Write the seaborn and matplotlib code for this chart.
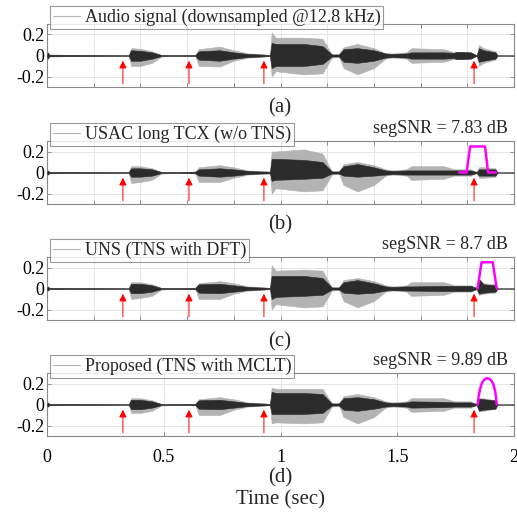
import numpy as np
import pandas as pd
import seaborn as sns
import matplotlib
matplotlib.use('Agg')
import matplotlib.pyplot as plt

# envelope breakpoints (sec)
t_env = [0.000, 0.003, 0.010, 0.24, 0.35, 0.36, 0.40, 0.45, 0.49, 0.55,
         0.635, 0.65, 0.74, 0.80, 0.86, 0.91, 0.955, 0.962, 0.98, 1.10,
         1.18, 1.22, 1.25, 1.27, 1.33, 1.40, 1.45, 1.48, 1.54, 1.56,
         1.70, 1.745, 1.75, 1.815, 1.84, 1.85, 1.87, 1.92, 1.93, 2.00]

# (a) original signal
a_gray_hi = [0, 0.03, 0.008, 0.004, 0.002, 0.07, 0.065, 0.04, 0.005, 0.003,
             0.005, 0.06, 0.085, 0.05, 0.02, 0.015, 0.005, 0.22, 0.17, 0.17,
             0.16, 0.01, 0.01, 0.08, 0.11, 0.07, 0.02, 0.02, 0.03, 0.07,
             0.06, 0.03, 0.035, 0.03, 0.002, 0.10, 0.07, 0.04, 0, 0]
a_gray_lo = [0, -0.03, -0.008, -0.004, -0.002, -0.10, -0.10, -0.07, -0.01, -0.003,
             -0.005, -0.10, -0.105, -0.05, -0.02, -0.015, -0.005, -0.20, -0.15, -0.18,
             -0.17, -0.02, -0.01, -0.12, -0.18, -0.12, -0.03, -0.02, -0.03, -0.07,
             -0.06, -0.03, -0.035, -0.03, -0.002, -0.10, -0.07, -0.04, 0, 0]
a_blk_hi = [0, 0.03, 0.008, 0.004, 0.002, 0.05, 0.045, 0.03, 0.005, 0.003,
            0.005, 0.04, 0.05, 0.03, 0.015, 0.01, 0.005, 0.12, 0.11, 0.11,
            0.09, 0.01, 0.01, 0.06, 0.07, 0.05, 0.02, 0.015, 0.02, 0.03,
            0.03, 0.025, 0.035, 0.03, 0.002, 0.07, 0.05, 0.03, 0, 0]
a_blk_lo = [0, -0.03, -0.008, -0.004, -0.002, -0.05, -0.05, -0.03, -0.005, -0.003,
            -0.005, -0.04, -0.05, -0.03, -0.015, -0.01, -0.005, -0.12, -0.10, -0.10,
            -0.08, -0.01, -0.01, -0.06, -0.07, -0.05, -0.02, -0.015, -0.02, -0.03,
            -0.03, -0.025, -0.035, -0.03, -0.002, -0.06, -0.05, -0.03, 0, 0]

# (b) USAC long TCX
b_gray_hi = [0, 0.02, 0.006, 0.004, 0.002, 0.06, 0.06, 0.04, 0.005, 0.004,
             0.008, 0.05, 0.07, 0.05, 0.02, 0.015, 0.008, 0.20, 0.20, 0.22,
             0.18, 0.01, 0.01, 0.08, 0.10, 0.07, 0.03, 0.02, 0.03, 0.06,
             0.06, 0.03, 0.03, 0.03, 0.005, 0.05, 0.05, 0.04, 0, 0]
b_gray_lo = [0, -0.02, -0.006, -0.004, -0.002, -0.10, -0.09, -0.07, -0.01, -0.004,
             -0.008, -0.09, -0.09, -0.05, -0.02, -0.015, -0.008, -0.20, -0.15, -0.18,
             -0.17, -0.02, -0.01, -0.12, -0.18, -0.12, -0.03, -0.02, -0.03, -0.07,
             -0.06, -0.03, -0.03, -0.03, -0.005, -0.05, -0.05, -0.04, 0, 0]
b_blk_hi = [0, 0.02, 0.006, 0.004, 0.003, 0.04, 0.04, 0.03, 0.005, 0.004,
            0.008, 0.03, 0.04, 0.03, 0.015, 0.01, 0.008, 0.13, 0.13, 0.12,
            0.10, 0.01, 0.01, 0.06, 0.08, 0.05, 0.02, 0.015, 0.02, 0.02,
            0.02, 0.02, 0.02, 0.02, 0.005, 0.03, 0.03, 0.03, 0, 0]
b_blk_lo = [0, -0.02, -0.006, -0.004, -0.003, -0.04, -0.04, -0.03, -0.005, -0.004,
            -0.008, -0.03, -0.04, -0.03, -0.015, -0.01, -0.008, -0.08, -0.07, -0.06,
            -0.05, -0.01, -0.01, -0.03, -0.04, -0.03, -0.02, -0.015, -0.02, -0.02,
            -0.02, -0.02, -0.02, -0.02, -0.005, -0.03, -0.03, -0.03, 0, 0]

# (c) UNS
c_gray_hi = [0, 0.02, 0.006, 0.004, 0.002, 0.06, 0.06, 0.04, 0.005, 0.004,
             0.006, 0.05, 0.07, 0.05, 0.02, 0.015, 0.006, 0.22, 0.17, 0.18,
             0.17, 0.01, 0.01, 0.08, 0.10, 0.07, 0.03, 0.02, 0.03, 0.06,
             0.06, 0.03, 0.03, 0.03, 0.005, 0.08, 0.05, 0.04, 0, 0]
c_gray_lo = [0, -0.02, -0.006, -0.004, -0.002, -0.10, -0.09, -0.07, -0.01, -0.004,
             -0.006, -0.10, -0.10, -0.05, -0.02, -0.015, -0.006, -0.20, -0.15, -0.18,
             -0.17, -0.02, -0.01, -0.12, -0.18, -0.12, -0.03, -0.02, -0.03, -0.07,
             -0.06, -0.03, -0.03, -0.03, -0.005, -0.06, -0.05, -0.04, 0, 0]
c_blk_hi = [0, 0.02, 0.006, 0.004, 0.002, 0.045, 0.045, 0.03, 0.005, 0.004,
            0.006, 0.04, 0.045, 0.03, 0.015, 0.01, 0.006, 0.12, 0.12, 0.12,
            0.10, 0.01, 0.01, 0.06, 0.08, 0.05, 0.02, 0.015, 0.02, 0.02,
            0.025, 0.025, 0.025, 0.025, 0.005, 0.09, 0.04, 0.03, 0, 0]
c_blk_lo = [0, -0.02, -0.006, -0.004, -0.002, -0.045, -0.045, -0.03, -0.005, -0.004,
            -0.006, -0.04, -0.045, -0.03, -0.015, -0.01, -0.006, -0.10, -0.08, -0.07,
            -0.06, -0.01, -0.01, -0.04, -0.05, -0.04, -0.02, -0.015, -0.02, -0.02,
            -0.025, -0.025, -0.025, -0.025, -0.005, -0.05, -0.04, -0.03, 0, 0]

# (d) Proposed
d_gray_hi = [0, 0.02, 0.006, 0.004, 0.002, 0.06, 0.06, 0.04, 0.005, 0.004,
             0.006, 0.05, 0.07, 0.05, 0.02, 0.015, 0.006, 0.16, 0.15, 0.15,
             0.15, 0.01, 0.01, 0.08, 0.10, 0.07, 0.03, 0.02, 0.03, 0.06,
             0.06, 0.03, 0.03, 0.03, 0.005, 0.06, 0.06, 0.04, 0, 0]
d_gray_lo = [0, -0.02, -0.006, -0.004, -0.002, -0.08, -0.08, -0.06, -0.01, -0.004,
             -0.006, -0.10, -0.10, -0.05, -0.02, -0.015, -0.006, -0.18, -0.17, -0.18,
             -0.17, -0.02, -0.01, -0.12, -0.18, -0.12, -0.03, -0.02, -0.03, -0.07,
             -0.06, -0.03, -0.03, -0.03, -0.005, -0.06, -0.06, -0.04, 0, 0]
d_blk_hi = [0, 0.02, 0.006, 0.004, 0.002, 0.045, 0.045, 0.03, 0.005, 0.004,
            0.006, 0.04, 0.045, 0.03, 0.015, 0.01, 0.006, 0.12, 0.11, 0.11,
            0.10, 0.01, 0.01, 0.06, 0.07, 0.05, 0.02, 0.015, 0.02, 0.03,
            0.025, 0.02, 0.02, 0.02, 0.005, 0.055, 0.05, 0.04, 0, 0]
d_blk_lo = [0, -0.02, -0.006, -0.004, -0.002, -0.045, -0.045, -0.03, -0.005, -0.004,
            -0.006, -0.04, -0.045, -0.03, -0.015, -0.01, -0.006, -0.09, -0.09, -0.09,
            -0.08, -0.01, -0.01, -0.05, -0.06, -0.04, -0.02, -0.015, -0.02, -0.03,
            -0.025, -0.02, -0.02, -0.02, -0.005, -0.06, -0.05, -0.04, 0, 0]

# magenta window curves
b_win_t = [1.765, 1.797, 1.812, 1.876, 1.889, 1.923]
b_win_v = [0, 0, 0.248, 0.248, 0, 0]
c_win_t = [1.844, 1.861, 1.909, 1.926]
c_win_v = [0, 0.25, 0.25, 0]
d_win_t = [1.844, 1.848, 1.853, 1.860, 1.868, 1.877, 1.886, 1.895, 1.904, 1.912, 1.919, 1.923, 1.926]
d_win_v = [0, 0.07, 0.13, 0.19, 0.225, 0.245, 0.25, 0.245, 0.225, 0.19, 0.13, 0.07, 0]

arrow_t = [0.325, 0.608, 0.929, 1.829]

legends = ['Audio signal (downsampled @12.8 kHz)', 'USAC long TCX (w/o TNS)',
           'UNS (TNS with DFT)', 'Proposed (TNS with MCLT)']
snr_labels = [None, 'segSNR = 7.83 dB', 'segSNR = 8.7 dB', 'segSNR = 9.89 dB']
panel_labels = ['(a)', '(b)', '(c)', '(d)']

yticks = [-0.2, 0, 0.2]
ytick_labels = ['-0.2', '0', '0.2']
xticks_minor = [0.2, 0.4, 0.6, 0.8, 1.0, 1.2, 1.4, 1.6, 1.8]
xticks_last = [0, 0.5, 1, 1.5, 2]
xtick_labels = ['0', '0.5', '1', '1.5', '2']

sns.set_theme(style='white')
plt.rcParams['font.family'] = ['Liberation Serif', 'DejaVu Serif']
plt.rcParams['axes.unicode_minus'] = False

envs = [(a_gray_hi, a_gray_lo, a_blk_hi, a_blk_lo),
        (b_gray_hi, b_gray_lo, b_blk_hi, b_blk_lo),
        (c_gray_hi, c_gray_lo, c_blk_hi, c_blk_lo),
        (d_gray_hi, d_gray_lo, d_blk_hi, d_blk_lo)]
wins = [None, (b_win_t, b_win_v), (c_win_t, c_win_v), (d_win_t, d_win_v)]

fig = plt.figure(figsize=(5.17, 5.17), dpi=100)
W = 517.0
tops = [24, 141, 257, 373]
lab_y = [108, 225, 342, 478]
ax_h = 63

for i in range(4):
    ax = fig.add_axes([47 / W, 1 - (tops[i] + ax_h) / W, 467 / W, ax_h / W])
    ghi, glo, bhi, blo = envs[i]
    ax.fill_between(t_env, glo, ghi, color='#b3b3b3', lw=0.4, zorder=2)
    ax.fill_between(t_env, blo, bhi, color='#2b2b2b', lw=0.4, zorder=3)
    if wins[i] is not None:
        wd = pd.DataFrame({'t': wins[i][0], 'v': wins[i][1]})
        sns.lineplot(data=wd, x='t', y='v', color='#ff00ff', lw=1.8,
                     sort=False, estimator=None, ax=ax, zorder=5)
    for ta in arrow_t:
        ax.annotate('', xy=(ta, -0.05), xytext=(ta, -0.27),
                    arrowprops=dict(arrowstyle='-|>', color='red', lw=0.7,
                                    mutation_scale=11, shrinkA=0, shrinkB=0),
                    zorder=6)
    ax.set_xlim(0, 2)
    ax.set_ylim(-0.3, 0.3)
    ax.set_yticks(yticks)
    ax.set_yticklabels(ytick_labels, fontsize=13)
    if i < 3:
        ax.set_xticks(xticks_minor)
        ax.set_xticklabels([])
    else:
        ax.set_xticks(xticks_last)
        ax.set_xticklabels(xtick_labels, fontsize=13)
    ax.set_xlabel('')
    ax.set_ylabel('')
    ax.grid(True, color='#e4e4e4', lw=0.7, zorder=0)
    ax.set_axisbelow(True)
    ax.tick_params(direction='in', length=3, width=0.6, color='#808080',
                   top=True, right=True, bottom=True, left=True, pad=2,
                   labelcolor='black')
    ax.tick_params(axis='x', pad=9)
    for s in ax.spines.values():
        s.set_color('#8a8a8a')
        s.set_linewidth(0.8)
    handle = plt.Line2D([], [], color='#b5b5b5', lw=0.8)
    leg = ax.legend([handle], [legends[i]], loc='lower left',
                    bbox_to_anchor=(0.006, 0.92), borderaxespad=0,
                    fontsize=13, handlelength=1.5, handletextpad=0.3,
                    borderpad=0.15, frameon=True, fancybox=False)
    leg.get_frame().set_edgecolor('#808080')
    leg.get_frame().set_linewidth(0.8)
    leg.set_zorder(10)
    if snr_labels[i]:
        ax.text(0.987, 1.06, snr_labels[i], transform=ax.transAxes,
                ha='right', va='bottom', fontsize=13)
    fig.text(280 / W, 1 - lab_y[i] / W, panel_labels[i], ha='center',
             va='center', fontsize=15)

fig.text(280 / W, 1 - 500 / W, 'Time (sec)', ha='center', va='center', fontsize=15)
fig.savefig('out.png', dpi=100)
